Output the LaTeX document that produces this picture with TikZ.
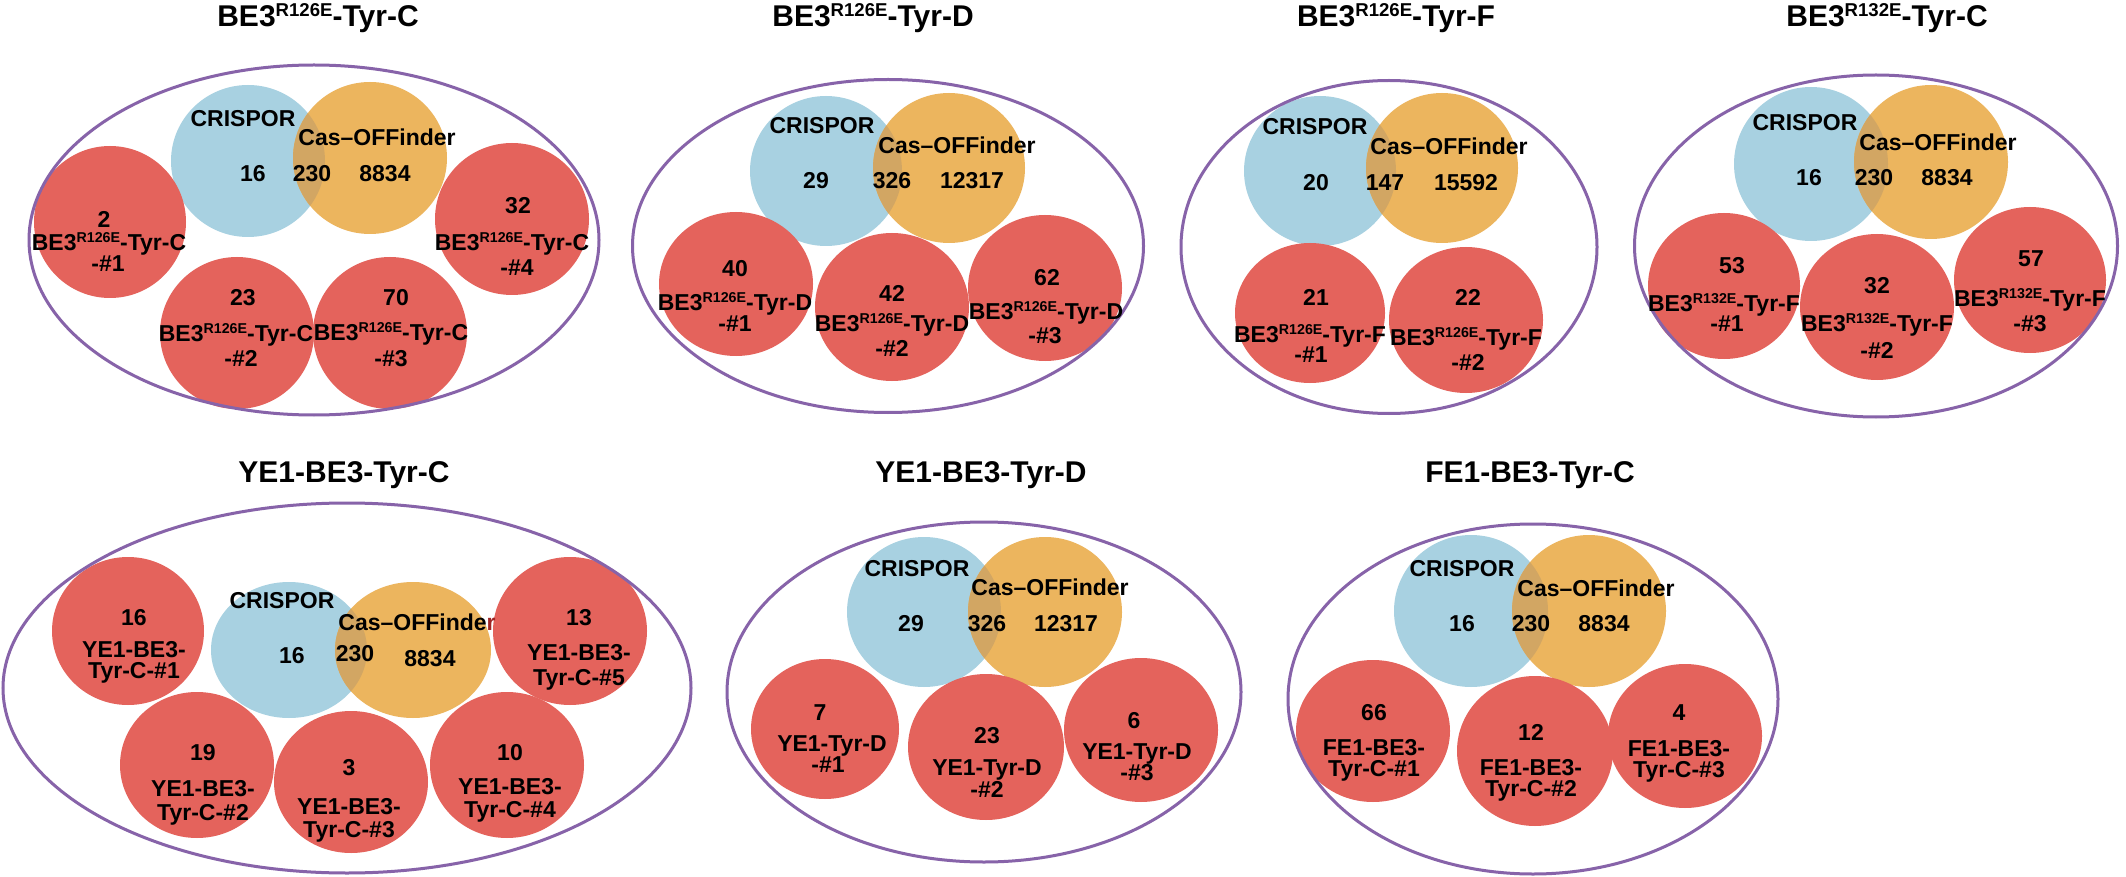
\documentclass[tikz,border=0pt]{standalone}
\usepackage{fontspec}
\setmainfont{Liberation Sans}
\usepackage{graphicx}
\usetikzlibrary{shapes.geometric}
\definecolor{vblue}{HTML}{A8D1E1}
\definecolor{vorange}{HTML}{ECB55E}
\definecolor{vover}{HTML}{D2A663}
\definecolor{vred}{HTML}{E4635C}
\definecolor{vpurple}{HTML}{8763A9}
\definecolor{dred}{HTML}{A02525}
\newcommand\spx[1]{\raisebox{0.33em}{\scalebox{0.62}{#1}}}
\newcommand\LC{BE3\spx{R126E}-Tyr-C}
\newcommand\LD{BE3\spx{R126E}-Tyr-D}
\newcommand\LF{BE3\spx{R126E}-Tyr-F}
\newcommand\LG{BE3\spx{R132E}-Tyr-F}
\newcommand\venn[7]{%
  \node[vb, minimum width=2*#6pt, minimum height=2*#7pt] (#1b) at (#2,#3) {};
  \node[vo, minimum width=2*#6pt, minimum height=2*#7pt] (#1o) at (#4,#5) {};
  \begin{scope}\clip (#2,#3) ellipse ({#6} and {#7});
    \fill[vover] (#4,#5) ellipse ({#6} and {#7});\end{scope}}
\newcommand\rc[5]{\node[rd, minimum width=2*#4pt, minimum height=2*#5pt] (#1) at (#2,#3) {};}
\tikzset{
  vb/.style={ellipse, fill=vblue, inner sep=0pt},
  vo/.style={ellipse, fill=vorange, inner sep=0pt},
  rd/.style={ellipse, fill=vred, inner sep=0pt},
  pe/.style={ellipse, draw=vpurple, line width=3pt, inner sep=0pt},
  tt/.style={font=\fontsize{30}{30}\selectfont\bfseries, inner sep=0pt, text height=21.5pt, text depth=0pt},
  vl/.style={font=\fontsize{23}{23}\selectfont\bfseries, inner sep=0pt, text height=16.5pt, text depth=0pt},
  lb/.style={font=\fontsize{23}{23}\selectfont\bfseries, inner sep=0pt, text height=16.5pt, text depth=0pt},
}
\begin{document}
\begin{tikzpicture}[x=1pt,y=-1pt]
\fill[white] (0,0) rectangle (2126,877);
\useasboundingbox (0,0) rectangle (2126,877);

% ---------- shapes ----------
% P1
\venn{p1}{248}{161}{370}{158}{77}{76}
\rc{p1r1}{110}{222}{76}{76}
\rc{p1r2}{237}{333}{77}{76}
\rc{p1r3}{390}{333}{77}{76}
\rc{p1r4}{512}{219}{77}{76}
\node[pe, minimum width=570pt, minimum height=350pt] (p1e) at (314,240) {};
% P2
\venn{p2}{826}{171}{949}{168}{76}{75}
\rc{p2r1}{736}{284}{77}{72}
\rc{p2r2}{892}{307}{77}{74}
\rc{p2r3}{1045}{288}{77}{73}
\node[pe, minimum width=511pt, minimum height=333pt] (p2e) at (888,246) {};
% P3
\venn{p3}{1320}{171}{1442}{168}{76}{75}
\rc{p3r1}{1310}{313}{75}{70}
\rc{p3r2}{1466}{320}{77}{73}
\node[pe, minimum width=416pt, minimum height=333pt] (p3e) at (1389,247) {};
% P4
\venn{p4}{1811}{164}{1931}{162}{77}{77}
\rc{p4r1}{1724}{286}{76}{73}
\rc{p4r2}{1877}{307}{77}{73}
\rc{p4r3}{2030}{280}{76}{73}
\node[pe, minimum width=483pt, minimum height=342pt] (p4e) at (1876,246) {};
% P5
\venn{p5}{289}{650}{413}{650}{78}{68}
\rc{p5r1}{128}{631}{76}{74}
\rc{p5r5}{570}{631}{77}{74}
\rc{p5r2}{197}{765}{77}{73}
\rc{p5r3}{351}{782}{77}{71}
\rc{p5r4}{507}{765}{77}{73}
\node[pe, minimum width=688pt, minimum height=370pt] (p5e) at (347,688) {};
% P6
\venn{p6}{924}{612}{1045}{612}{77}{75}
\rc{p6r1}{825}{729}{74}{70}
\rc{p6r2}{986}{747}{78}{73}
\rc{p6r3}{1141}{730}{77}{72}
\node[pe, minimum width=514pt, minimum height=340pt] (p6e) at (984,692) {};
% P7
\venn{p7}{1471}{611}{1589}{611}{77}{76}
\rc{p7r1}{1373}{731}{77}{71}
\rc{p7r2}{1535}{751}{78}{75}
\rc{p7r3}{1685}{736}{77}{72}
\node[pe, minimum width=490pt, minimum height=350pt] (p7e) at (1533,699) {};

% ---------- titles ----------
\node[tt] (t1) at (318,16) {\LC};
\node[tt] (t2) at (873,16) {\LD};
\node[tt] (t3) at (1396,16) {\LF};
\node[tt] (t4) at (1887,16) {BE3\spx{R132E}-Tyr-C};
\node[tt] (t5) at (344,472) {YE1-BE3-Tyr-C};
\node[tt] (t6) at (981,472) {YE1-BE3-Tyr-D};
\node[tt] (t7) at (1530,472) {FE1-BE3-Tyr-C};

% ---------- venn labels ----------
\node[vl] (p1c) at (243,118) {CRISPOR};
\node[vl] (p1f) at (377,137) {Cas–OFFinder};
\node[vl] (p1n1) at (253,173) {16};
\node[vl] (p1n2) at (312,173) {230};
\node[vl] (p1n3) at (385,173) {8834};

\node[vl] (p2c) at (822,125) {CRISPOR};
\node[vl] (p2f) at (957,145) {Cas–OFFinder};
\node[vl] (p2n1) at (816,180) {29};
\node[vl] (p2n2) at (892,180) {326};
\node[vl] (p2n3) at (972,180) {12317};

\node[vl] (p3c) at (1315,126) {CRISPOR};
\node[vl] (p3f) at (1449,146) {Cas–OFFinder};
\node[vl] (p3n1) at (1316,182) {20};
\node[vl] (p3n2) at (1385,182) {147};
\node[vl] (p3n3) at (1466,182) {15592};

\node[vl] (p4c) at (1805,122) {CRISPOR};
\node[vl] (p4f) at (1938,142) {Cas–OFFinder};
\node[vl] (p4n1) at (1809,177) {16};
\node[vl] (p4n2) at (1874,177) {230};
\node[vl] (p4n3) at (1947,177) {8834};

\node[vl] (p5c) at (282,600) {CRISPOR};
\node[vl] (p5f) at (417,622) {Cas–OFFinde\textcolor{dred}{r}};
\node[vl] (p5n1) at (292,655) {16};
\node[vl] (p5n2) at (355,653) {230};
\node[vl] (p5n3) at (430,658) {8834};

\node[vl] (p6c) at (917,568) {CRISPOR};
\node[vl] (p6f) at (1050,587) {Cas–OFFinder};
\node[vl] (p6n1) at (911,623) {29};
\node[vl] (p6n2) at (987,623) {326};
\node[vl] (p6n3) at (1066,623) {12317};

\node[vl] (p7c) at (1462,568) {CRISPOR};
\node[vl] (p7f) at (1596,588) {Cas–OFFinder};
\node[vl] (p7n1) at (1462,623) {16};
\node[vl] (p7n2) at (1531,623) {230};
\node[vl] (p7n3) at (1604,623) {8834};

% ---------- red labels ----------
% P1
\node[lb] (p1r1a) at (104,219) {2};
\node[lb] (p1r1b) at (109,242) {\LC};
\node[lb] (p1r1c) at (108,263) {-\#1};
\node[lb] (p1r2a) at (243,297) {23};
\node[lb] (p1r2b) at (236,333) {\LC};
\node[lb] (p1r2c) at (241,358) {-\#2};
\node[lb] (p1r3a) at (396,297) {70};
\node[lb] (p1r3b) at (391,332) {\LC};
\node[lb] (p1r3c) at (391,358) {-\#3};
\node[lb] (p1r4a) at (518,205) {32};
\node[lb] (p1r4b) at (512,242) {\LC};
\node[lb] (p1r4c) at (517,267) {-\#4};
% P2
\node[lb] (p2r1a) at (735,268) {40};
\node[lb] (p2r1b) at (735,302) {\LD};
\node[lb] (p2r1c) at (735,323) {-\#1};
\node[lb] (p2r2a) at (892,293) {42};
\node[lb] (p2r2b) at (892,323) {\LD};
\node[lb] (p2r2c) at (892,348) {-\#2};
\node[lb] (p2r3a) at (1047,277) {62};
\node[lb] (p2r3b) at (1046,311) {\LD};
\node[lb] (p2r3c) at (1045,335) {-\#3};
% P3
\node[lb] (p3r1a) at (1316,297) {21};
\node[lb] (p3r1b) at (1310,334) {\LF};
\node[lb] (p3r1c) at (1311,354) {-\#1};
\node[lb] (p3r2a) at (1468,297) {22};
\node[lb] (p3r2b) at (1466,337) {\LF};
\node[lb] (p3r2c) at (1468,362) {-\#2};
% P4
\node[lb] (p4r1a) at (1732,265) {53};
\node[lb] (p4r1b) at (1724,303) {\LG};
\node[lb] (p4r1c) at (1727,323) {-\#1};
\node[lb] (p4r2a) at (1877,285) {32};
\node[lb] (p4r2b) at (1877,323) {\LG};
\node[lb] (p4r2c) at (1877,350) {-\#2};
\node[lb] (p4r3a) at (2031,258) {57};
\node[lb] (p4r3b) at (2030,298) {\LG};
\node[lb] (p4r3c) at (2030,323) {-\#3};
% P5
\node[lb] (p5r1a) at (134,617) {16};
\node[lb] (p5r1b) at (134,649) {YE1-BE3-};
\node[lb] (p5r1c) at (134,670) {Tyr-C-\#1};
\node[lb] (p5r5a) at (579,617) {13};
\node[lb] (p5r5b) at (579,652) {YE1-BE3-};
\node[lb] (p5r5c) at (579,677) {Tyr-C-\#5};
\node[lb] (p5r2a) at (203,752) {19};
\node[lb] (p5r2b) at (203,788) {YE1-BE3-};
\node[lb] (p5r2c) at (203,812) {Tyr-C-\#2};
\node[lb] (p5r3a) at (349,767) {3};
\node[lb] (p5r3b) at (349,806) {YE1-BE3-};
\node[lb] (p5r3c) at (349,829) {Tyr-C-\#3};
\node[lb] (p5r4a) at (510,752) {10};
\node[lb] (p5r4b) at (510,786) {YE1-BE3-};
\node[lb] (p5r4c) at (510,809) {Tyr-C-\#4};
% P6
\node[lb] (p6r1a) at (820,712) {7};
\node[lb] (p6r1b) at (832,743) {YE1-Tyr-D};
\node[lb] (p6r1c) at (828,764) {-\#1};
\node[lb] (p6r2a) at (987,735) {23};
\node[lb] (p6r2b) at (987,767) {YE1-Tyr-D};
\node[lb] (p6r2c) at (987,789) {-\#2};
\node[lb] (p6r3a) at (1134,720) {6};
\node[lb] (p6r3b) at (1137,751) {YE1-Tyr-D};
\node[lb] (p6r3c) at (1137,772) {-\#3};
% P7
\node[lb] (p7r1a) at (1374,712) {66};
\node[lb] (p7r1b) at (1374,747) {FE1-BE3-};
\node[lb] (p7r1c) at (1374,768) {Tyr-C-\#1};
\node[lb] (p7r2a) at (1531,732) {12};
\node[lb] (p7r2b) at (1531,767) {FE1-BE3-};
\node[lb] (p7r2c) at (1531,788) {Tyr-C-\#2};
\node[lb] (p7r3a) at (1679,712) {4};
\node[lb] (p7r3b) at (1679,748) {FE1-BE3-};
\node[lb] (p7r3c) at (1679,769) {Tyr-C-\#3};
\end{tikzpicture}
\end{document}
